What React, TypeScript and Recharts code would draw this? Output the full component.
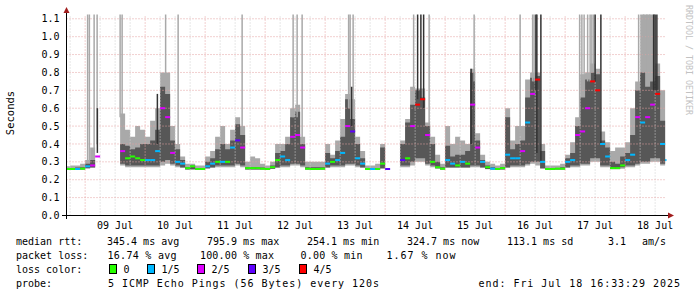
import React from 'react';
import { ComposedChart, Area, Scatter, XAxis, YAxis, ReferenceLine, ErrorBar } from 'recharts';

// ---- time axis (hours since Jul 8 00:00) ----
const START_HOUR = 16;
const STEP_HOURS = 2;
const X_MIN = 16.55;
const X_MAX = 256.55;
const Y_MAX = 1.124;

const DAY_LABELS = ['09 Jul', '10 Jul', '11 Jul', '12 Jul', '13 Jul', '14 Jul', '15 Jul', '16 Jul', '17 Jul', '18 Jul'];
const LABEL_HOURS = [36, 60, 84, 108, 132, 156, 180, 204, 228, 252];
const MIDNIGHT_HOURS = [24, 48, 72, 96, 120, 144, 168, 192, 216, 240];
const Y_TICKS = [0, 0.1, 0.2, 0.3, 0.4, 0.5, 0.6, 0.7, 0.8, 0.9, 1.0, 1.1];

// ---- smoke: outer (min..max) band ----
const OUTER_LO = [
  0.255, 0.255, 0.255, 0.255, 0.262, 0.265, 0.27, null, null, null, null, 0.28,
  0.27, 0.27, 0.27, 0.27, 0.27, 0.27, 0.27, 0.28, 0.29, 0.28, 0.27, 0.265,
  0.255, 0.255, 0.255, 0.255, 0.26, 0.265, 0.27, 0.27, 0.27, 0.27, 0.28, 0.27,
  0.255, 0.255, 0.255, 0.255, 0.255, 0.26, 0.265, 0.27, 0.27, 0.28, 0.28, 0.27,
  0.255, 0.255, 0.255, 0.255, 0.265, 0.27, 0.27, 0.27, 0.28, 0.28, 0.27, 0.265,
  0.255, 0.255, 0.255, 0.26, 0.255, null, null, 0.27, 0.27, 0.28, 0.30, 0.30,
  0.28, 0.27, 0.26, 0.255, 0.265, 0.265, 0.265, 0.265, 0.265, 0.27, 0.27, 0.265,
  0.258, 0.255, 0.255, 0.255, 0.265, 0.27, 0.27, 0.27, 0.28, 0.29, 0.28, 0.26,
  0.255, 0.255, 0.255, 0.255, 0.265, 0.27, 0.27, 0.28, 0.28, 0.30, 0.30, 0.27,
  0.27, 0.258, 0.258, 0.262, 0.27, 0.27, 0.28, 0.29, 0.29, 0.30, 0.30, 0.28, 0.27,
];
const OUTER_HI = [
  0.275, 0.28, 0.28, 0.29, 0.31, 0.38, 0.45, null, null, null, null, 0.57,
  0.48, 0.44, 0.50, 0.48, 0.44, 0.53, 0.60, 0.80, 0.80, 0.50, 0.40, 0.33,
  0.29, 0.29, 0.28, 0.28, 0.33, 0.36, 0.44, 0.50, 0.40, 0.48, 0.55, 0.50,
  0.30, 0.33, 0.32, 0.29, 0.28, 0.30, 0.40, 0.40, 0.44, 0.60, 0.62, 0.44,
  0.30, 0.30, 0.30, 0.30, 0.40, 0.34, 0.42, 0.54, 0.68, 0.65, 0.44, 0.36,
  0.28, 0.28, 0.29, 0.40, 0.30, null, null, 0.42, 0.54, 0.72, 0.71, 0.71,
  0.52, 0.44, 0.34, 0.29, 0.50, 0.40, 0.44, 0.42, 0.40, 0.82, 0.46, 0.34,
  0.30, 0.29, 0.28, 0.29, 0.60, 0.42, 0.50, 0.50, 0.76, 0.80, 0.80, 0.40,
  0.28, 0.28, 0.28, 0.29, 0.34, 0.41, 0.55, 0.79, 0.80, 0.85, 0.82, 0.47,
  0.41, 0.36, 0.38, 0.38, 0.41, 0.60, 0.75, 1.2, 1.2, 1.2, 0.85, 0.70, 0.45,
];
// ---- smoke: inner (dense) band ----
const INNER_LO = [
  0.258, 0.258, 0.258, 0.258, 0.265, 0.27, 0.28, null, null, null, null, 0.29,
  0.28, 0.28, 0.28, 0.28, 0.28, 0.28, 0.28, 0.30, 0.31, 0.29, 0.28, 0.27,
  0.258, 0.26, 0.258, 0.258, 0.265, 0.27, 0.28, 0.28, 0.28, 0.28, 0.29, 0.28,
  0.258, 0.258, 0.258, 0.258, 0.258, 0.262, 0.27, 0.28, 0.28, 0.29, 0.29, 0.28,
  0.258, 0.258, 0.258, 0.258, 0.27, 0.28, 0.28, 0.28, 0.29, 0.29, 0.28, 0.27,
  0.258, 0.258, 0.258, 0.265, 0.258, null, null, 0.28, 0.28, 0.30, 0.32, 0.32,
  0.29, 0.28, 0.265, 0.258, 0.27, 0.27, 0.27, 0.27, 0.27, 0.28, 0.28, 0.27,
  0.26, 0.258, 0.258, 0.258, 0.27, 0.28, 0.28, 0.28, 0.29, 0.30, 0.30, 0.265,
  0.258, 0.258, 0.258, 0.258, 0.27, 0.28, 0.28, 0.29, 0.29, 0.32, 0.32, 0.28,
  0.28, 0.26, 0.26, 0.27, 0.28, 0.28, 0.29, 0.30, 0.30, 0.32, 0.32, 0.29, 0.28,
];
const INNER_HI = [
  0.265, 0.265, 0.268, 0.27, 0.29, 0.31, 0.42, null, null, null, null, 0.40,
  0.39, 0.37, 0.38, 0.40, 0.40, 0.42, 0.48, 0.72, 0.68, 0.42, 0.37, 0.31,
  0.27, 0.28, 0.265, 0.265, 0.30, 0.32, 0.37, 0.40, 0.37, 0.42, 0.51, 0.45,
  0.27, 0.27, 0.27, 0.268, 0.265, 0.28, 0.35, 0.36, 0.40, 0.55, 0.58, 0.40,
  0.27, 0.27, 0.27, 0.27, 0.35, 0.32, 0.36, 0.44, 0.65, 0.54, 0.40, 0.32,
  0.265, 0.265, 0.265, 0.38, 0.27, null, null, 0.40, 0.52, 0.62, 0.70, 0.66,
  0.50, 0.40, 0.30, 0.27, 0.39, 0.33, 0.34, 0.34, 0.36, 0.80, 0.42, 0.31,
  0.28, 0.27, 0.265, 0.27, 0.55, 0.37, 0.40, 0.42, 0.66, 0.77, 0.78, 0.36,
  0.265, 0.265, 0.265, 0.27, 0.32, 0.35, 0.50, 0.66, 0.76, 0.80, 0.79, 0.42,
  0.38, 0.30, 0.29, 0.33, 0.35, 0.45, 0.70, 0.80, 0.72, 0.75, 0.78, 0.53, 0.38,
];
// ---- median rtt (seconds) and loss (pings lost of 5) ----
const MEDIAN = [
  0.26, 0.26, 0.26, 0.262, 0.275, 0.28, 0.33, null, null, null, null, 0.36,
  0.32, 0.33, 0.32, 0.31, 0.31, 0.31, 0.36, 0.60, 0.55, 0.35, 0.30, 0.29,
  0.265, 0.275, 0.26, 0.26, 0.275, 0.29, 0.30, 0.30, 0.30, 0.38, 0.42, 0.38,
  0.265, 0.265, 0.265, 0.262, 0.26, 0.27, 0.31, 0.33, 0.31, 0.44, 0.45, 0.38,
  0.262, 0.26, 0.26, 0.262, 0.29, 0.30, 0.31, 0.35, 0.50, 0.47, 0.32, 0.29,
  0.26, 0.26, 0.26, 0.29, 0.26, null, null, 0.31, 0.32, 0.50, 0.62, 0.65,
  0.45, 0.30, 0.27, 0.262, 0.31, 0.29, 0.28, 0.30, 0.29, 0.62, 0.38, 0.30,
  0.27, 0.262, 0.26, 0.265, 0.34, 0.32, 0.32, 0.36, 0.52, 0.68, 0.76, 0.30,
  0.26, 0.26, 0.262, 0.262, 0.30, 0.31, 0.45, 0.47, 0.60, 0.75, 0.70, 0.40,
  0.33, 0.265, 0.265, 0.28, 0.31, 0.34, 0.55, 0.52, 0.55, 0.62, 0.68, 0.40, 0.31,
];
const LOSS = [
  0, 0, 1, 0, 1, 2, 2, null, null, null, null, 2,
  0, 0, 0, 0, 1, 1, 1, 2, 2, 2, 1, 1,
  0, 0, 0, 0, 1, 1, 0, 1, 0, 1, 3, 2,
  0, 0, 0, 0, 0, 0, 0, 1, 1, 2, 2, 2,
  0, 0, 0, 0, 1, 0, 1, 1, 2, 3, 1, 1,
  0, 1, 0, 0, 3, null, null, 3, 0, 2, 4, 4,
  2, 0, 0, 0, 1, 1, 0, 1, 0, 2, 2, 1,
  0, 1, 0, 0, 1, 1, 1, 2, 1, 2, 4, 1,
  0, 0, 0, 0, 1, 1, 2, 2, 2, 4, 4, 1,
  1, 0, 0, 0, 1, 1, 2, 1, 2, 2, 4, 1, 1,
];

// ---- single-sample spikes: [hour, from, to] (to >= 1.2 means off the top) ----
const LIGHT_SPIKES = [
  [25.0, 0.30, 1.2], [25.7, 0.30, 1.2], [27.6, 0.35, 1.2], [28.8, 0.40, 1.2],
  [38.0, 0.55, 1.2], [38.8, 0.50, 1.2], [56.2, 0.75, 1.2], [61.2, 0.40, 1.2],
  [86.8, 0.45, 1.2], [107.2, 0.55, 1.2], [108.8, 0.55, 1.2], [110.8, 0.42, 1.2],
  [129.4, 0.60, 1.2], [130.0, 0.60, 1.2], [131.2, 0.55, 1.2], [155.4, 0.65, 1.2],
  [161.6, 0.50, 1.2], [179.6, 0.75, 1.2], [198.0, 0.45, 1.2], [203.0, 0.75, 1.2],
  [203.6, 0.75, 1.2], [221.8, 0.50, 1.2], [222.7, 0.70, 1.2], [223.6, 0.70, 1.2],
  [225.0, 0.75, 1.2], [226.0, 0.75, 1.2], [226.7, 0.80, 1.2], [227.4, 0.80, 1.2],
  [245.4, 0.70, 1.2], [247.4, 0.80, 1.2], [248.7, 0.80, 1.2], [249.8, 0.80, 1.2],
];
const DARK_SPIKES = [
  [28.9, 0.35, 0.60], [52.9, 0.40, 0.68], [130.6, 0.50, 0.72], [157.0, 0.65, 1.2],
  [158.3, 0.65, 1.2], [159.4, 0.60, 1.2], [178.4, 0.40, 0.82], [204.3, 0.70, 1.2],
  [204.7, 0.35, 1.2], [206.3, 0.30, 1.2], [228.0, 0.75, 1.2], [230.3, 0.40, 1.2],
  [251.4, 0.70, 1.2], [252.0, 0.70, 1.2], [252.7, 0.70, 1.2],
];

const LOSS_COLORS = ['#26ff00', '#00b8ff', '#dd00ff', '#5e00ff', '#ff0000'];
const LOSS_LABELS = ['0', '1/5', '2/5', '3/5', '4/5'];

const RTT_ITEMS = ['345.4 ms avg', '795.9 ms max', '254.1 ms min', '324.7 ms now', '113.1 ms sd', '3.1', 'am/s'];
const LOSS_ITEMS = ['16.74 % avg', '100.00 % max', '0.00 % min', '1.67 % now'];
const PROBE_TEXT = '5 ICMP Echo Pings (56 Bytes) every 120s';
const END_TEXT = 'end: Fri Jul 18 16:33:29 2025';

// ---- layout / style ----
const W = 697;
const H = 297;
const FONT = '"DejaVu Sans Mono", monospace';
const OUTER_FILL = '#a9a9a9';
const INNER_FILL = '#575757';
const MAJOR_GRID = '#e4a0a0';
const MINOR_GRID = '#cfcfcf';
const ARROW = '#a11d1d';

const rows = MEDIAN.map((m, i) => ({
  t: START_HOUR + i * STEP_HOURS,
  outer: OUTER_LO[i] == null ? null : [OUTER_LO[i], OUTER_HI[i]],
  inner: INNER_LO[i] == null ? null : [INNER_LO[i], INNER_HI[i]],
  median: m,
  loss: LOSS[i],
}));
const medianRows = rows.filter((r) => r.median != null);
const toSpike = ([t, lo, hi]: number[]) => ({ t, lo, err: [0, Math.min(hi, Y_MAX) - lo] });
const lightSpikes = LIGHT_SPIKES.map(toSpike);
const darkSpikes = DARK_SPIKES.map(toSpike);

const minorHours: number[] = [];
for (let h = 18; h <= 252; h += 6) if (h % 24 !== 0) minorHours.push(h);

const MedianDash = (props: any) => {
  const { cx, cy, payload } = props;
  if (cx == null || cy == null) return <g />;
  return <rect x={cx} y={cy - 1} width={5} height={2} fill={LOSS_COLORS[payload.loss]} />;
};
const NoShape = () => <g />;

const LEGEND_X_RTT = [107, 207, 307, 407, 507, 608, 642];
const LEGEND_X_LOSS = [107.5, 200, 300.5, 386.5];
const LEGEND_LEN_LOSS = [69, 74, 62, 69];
const LEGEND_X_BOX = [109, 147, 197, 248, 299];

export default function App() {
  const txt = { fontFamily: FONT, fontSize: 10, fill: '#000' };
  return (
    <div style={{ position: 'absolute', left: 0, top: 0, width: W, height: H, background: '#fff' }}>
      <ComposedChart
        width={W}
        height={H}
        data={rows}
        margin={{ top: 14.5, right: 30.5, bottom: 61.5, left: 6.5 }}
      >
        <XAxis
          type="number"
          dataKey="t"
          domain={[X_MIN, X_MAX]}
          allowDataOverflow
          ticks={LABEL_HOURS}
          interval={0}
          tickFormatter={(v: number) => DAY_LABELS[LABEL_HOURS.indexOf(v)]}
          tickLine={false}
          tickSize={0}
          tickMargin={6}
          height={20}
          axisLine={{ stroke: '#000' }}
          tick={txt}
        />
        <YAxis
          type="number"
          domain={[0, Y_MAX]}
          allowDataOverflow
          ticks={Y_TICKS}
          interval={0}
          tickFormatter={(v: number) => v.toFixed(1)}
          tickLine={false}
          tickSize={0}
          tickMargin={7}
          width={60}
          axisLine={{ stroke: '#000' }}
          tick={txt}
        />
        {minorHours.map((h) => (
          <ReferenceLine key={'mn' + h} x={h} stroke={MINOR_GRID} strokeDasharray="1 2" />
        ))}
        {MIDNIGHT_HOURS.map((h) => (
          <ReferenceLine key={'mj' + h} x={h} stroke={MAJOR_GRID} strokeDasharray="1 2" />
        ))}
        {Y_TICKS.slice(1).map((v) => (
          <ReferenceLine key={'y' + v} y={v} stroke={MAJOR_GRID} strokeDasharray="1 2" />
        ))}
        <Area
          type="stepAfter"
          dataKey="outer"
          fill={OUTER_FILL}
          fillOpacity={1}
          stroke="none"
          dot={false}
          activeDot={false}
          isAnimationActive={false}
        />
        <Area
          type="stepAfter"
          dataKey="inner"
          fill={INNER_FILL}
          fillOpacity={1}
          stroke="none"
          dot={false}
          activeDot={false}
          isAnimationActive={false}
        />
        <Scatter data={lightSpikes} dataKey="lo" shape={NoShape} isAnimationActive={false}>
          <ErrorBar dataKey="err" direction="y" width={0} stroke={OUTER_FILL} strokeWidth={1.5} isAnimationActive={false} />
        </Scatter>
        <Scatter data={darkSpikes} dataKey="lo" shape={NoShape} isAnimationActive={false}>
          <ErrorBar dataKey="err" direction="y" width={0} stroke="#333333" strokeWidth={1.5} isAnimationActive={false} />
        </Scatter>
        <Scatter data={medianRows} dataKey="median" shape={MedianDash} isAnimationActive={false} />
      </ComposedChart>

      <svg
        width={W}
        height={H}
        style={{ position: 'absolute', left: 0, top: 0, pointerEvents: 'none' }}
      >
        {/* axis extensions and arrows */}
        <line x1={66.5} y1={11} x2={66.5} y2={219} stroke="#000" strokeWidth={1} />
        <line x1={62} y1={215.5} x2={669} y2={215.5} stroke="#000" strokeWidth={1} />
        <polygon points="66.5,7 63.5,13 69.5,13" fill={ARROW} />
        <polygon points="674,215.5 668,212.5 668,218.5" fill={ARROW} />

        <text x={13.5} y={113} transform="rotate(-90 13.5 113)" textAnchor="middle" fontFamily={FONT} fontSize={10.5} fill="#000">
          Seconds
        </text>
        <text x={686} y={5} transform="rotate(90 686 5)" fontFamily={FONT} fontSize={8.3} fill="#c2c2c2">
          RRDTOOL / TOBI OETIKER
        </text>

        <g fontFamily={FONT} fontSize={10} fill="#000">
          <text x={16} y={245}>median rtt:</text>
          {RTT_ITEMS.map((s, i) => (
            <text key={'r' + i} x={LEGEND_X_RTT[i]} y={245}>{s}</text>
          ))}
          <text x={16} y={259}>packet loss:</text>
          {LOSS_ITEMS.map((s, i) => (
            <text key={'l' + i} x={LEGEND_X_LOSS[i]} y={259} textLength={LEGEND_LEN_LOSS[i]} lengthAdjust="spacing">{s}</text>
          ))}
          <text x={16} y={272.5}>loss color:</text>
          {LOSS_LABELS.map((s, i) => (
            <g key={'c' + i}>
              <rect x={LEGEND_X_BOX[i] + 0.5} y={264.5} width={7} height={9} fill={LOSS_COLORS[i]} stroke="#000" strokeWidth={1} />
              <text x={LEGEND_X_BOX[i] + 14.5} y={272.5}>{s}</text>
            </g>
          ))}
          <text x={16} y={286.5}>probe:</text>
          <text x={108} y={286.5} textLength={271} lengthAdjust="spacing">{PROBE_TEXT}</text>
          <text x={478.5} y={286.5} textLength={201.5} lengthAdjust="spacing">{END_TEXT}</text>
        </g>
      </svg>
    </div>
  );
}
